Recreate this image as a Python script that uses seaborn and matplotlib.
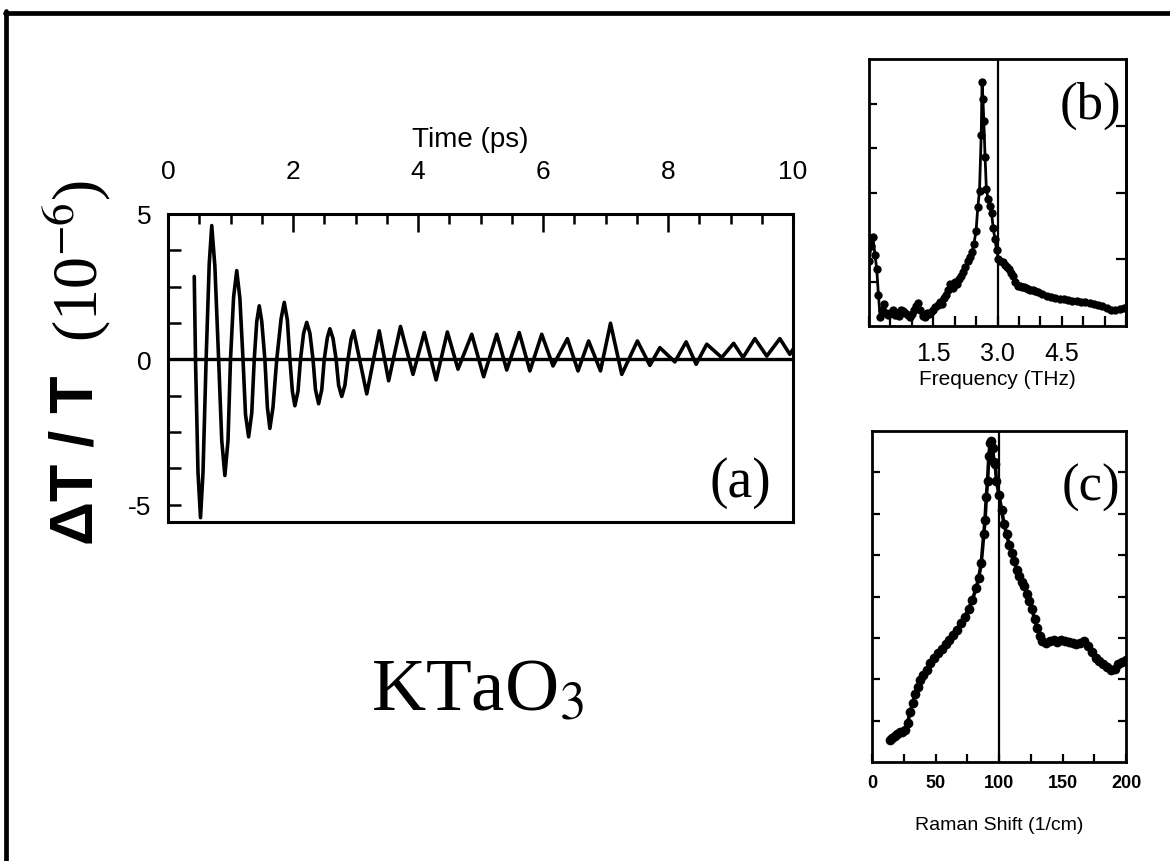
import matplotlib
matplotlib.use("Agg")
import matplotlib.pyplot as plt
import seaborn as sns
import numpy as np
from matplotlib.lines import Line2D
from matplotlib.ticker import MultipleLocator, FixedLocator, NullFormatter

# ---------------- data ----------------
# (a) pump-probe transient
time_ps = [0.42, 0.44, 0.48, 0.52, 0.56, 0.61, 0.66, 0.70, 0.75, 0.81, 0.86, 0.91,
           0.96, 1.00, 1.05, 1.10, 1.15, 1.20, 1.24, 1.29, 1.34, 1.38, 1.42, 1.46,
           1.50, 1.55, 1.59, 1.63, 1.68, 1.74, 1.81, 1.86, 1.91, 1.95, 1.99, 2.03,
           2.08, 2.12, 2.17, 2.22, 2.27, 2.32, 2.36, 2.41, 2.46, 2.50, 2.55, 2.59,
           2.64, 2.69, 2.73, 2.78, 2.83, 2.88, 2.93, 2.97,
           3.18, 3.38, 3.53, 3.72, 3.92, 4.10, 4.29, 4.47, 4.64,
           4.86, 5.05, 5.26, 5.42, 5.62, 5.79, 5.98, 6.16, 6.39, 6.56, 6.73, 6.92,
           7.08, 7.26, 7.51, 7.71, 7.87, 8.11, 8.29, 8.45, 8.62, 8.86, 9.05, 9.20,
           9.39, 9.58, 9.79, 9.95, 10.0]
dT_T = [2.85, 0.00, -3.90, -5.45, -3.90, 0.00, 3.30, 4.60, 3.20, 0.00, -2.80, -4.00,
        -2.80, 0.00, 2.15, 3.05, 2.10, 0.00, -1.90, -2.67, -1.85, 0.00, 1.30, 1.84,
        1.30, 0.00, -1.65, -2.38, -1.65, 0.00, 1.40, 1.96, 1.35, 0.00, -1.10, -1.60,
        -1.10, 0.00, 0.90, 1.27, 0.90, 0.00, -1.05, -1.53, -1.05, 0.00, 0.75, 1.05,
        0.72, 0.00, -0.90, -1.28, -0.90, 0.00, 0.70, 0.98,
        -1.19, 0.98, -0.74, 1.13, -0.52, 0.92, -0.71, 0.94, -0.34,
        0.86, -0.60, 0.86, -0.37, 0.92, -0.40, 0.86, -0.23, 0.71, -0.40, 0.63, -0.40,
        1.24, -0.52, 0.63, -0.21, 0.40, -0.09, 0.60, -0.17, 0.52, 0.06, 0.55, 0.06,
        0.71, 0.11, 0.71, 0.17, 0.34]

# (b) Fourier spectrum
freq_thz = [0.00, 0.05, 0.09, 0.14, 0.18, 0.22, 0.26, 0.30, 0.35, 0.40, 0.45, 0.50,
            0.55, 0.60, 0.65, 0.70, 0.75, 0.80, 0.85, 0.90, 0.95, 1.00, 1.05, 1.10,
            1.15, 1.20, 1.25, 1.30, 1.35, 1.40, 1.45, 1.50, 1.55, 1.60, 1.65, 1.70,
            1.75, 1.80, 1.85, 1.90, 1.95, 2.00, 2.05, 2.10, 2.15, 2.20, 2.25, 2.30,
            2.35, 2.40, 2.45, 2.50, 2.54, 2.58, 2.62, 2.64, 2.66, 2.68, 2.71, 2.74,
            2.78, 2.82, 2.86, 2.90, 2.94, 2.98, 3.02, 3.07, 3.12, 3.17, 3.22, 3.27,
            3.32, 3.37, 3.42, 3.47, 3.52, 3.57, 3.62, 3.67, 3.72, 3.77, 3.82, 3.87,
            3.95, 4.05, 4.15, 4.25, 4.35, 4.45, 4.55, 4.65, 4.75, 4.85, 4.95, 5.05,
            5.15, 5.25, 5.35, 5.45, 5.55, 5.65, 5.75, 5.85, 5.95]
fft_amp = [1.47, 1.80, 2.00, 1.60, 1.28, 0.70, 0.20, 0.35, 0.50, 0.30, 0.25, 0.30,
           0.35, 0.25, 0.30, 0.22, 0.35, 0.34, 0.30, 0.25, 0.20, 0.27, 0.35, 0.45,
           0.52, 0.35, 0.23, 0.20, 0.30, 0.28, 0.31, 0.36, 0.42, 0.47, 0.55, 0.50,
           0.62, 0.70, 0.80, 0.94, 0.85, 0.98, 0.95, 1.05, 1.13, 1.22, 1.32, 1.47,
           1.55, 1.66, 1.85, 2.14, 2.67, 3.04, 4.30, 5.48, 5.10, 4.61, 3.80, 3.08,
           2.85, 2.70, 2.55, 2.20, 1.96, 1.70, 1.51, 1.45, 1.43, 1.38, 1.32, 1.28,
           1.18, 1.13, 1.00, 0.91, 0.90, 0.88, 0.87, 0.86, 0.84, 0.82, 0.80, 0.79,
           0.76, 0.72, 0.68, 0.66, 0.63, 0.61, 0.60, 0.58, 0.57, 0.56, 0.55, 0.53,
           0.51, 0.49, 0.47, 0.44, 0.40, 0.35, 0.37, 0.38, 0.40]

# (c) Raman spectrum
raman_shift = [14, 16, 18, 20, 22, 24, 26, 28, 30, 32, 34, 36, 38, 40, 43, 46, 49, 52,
               55, 58, 61, 64, 67, 70, 73, 76, 79, 82, 84, 86, 88, 89, 90, 91, 92, 93,
               94, 95, 96, 97, 98, 100, 102, 104, 106, 108, 110, 112, 114, 116, 118,
               120, 122, 124, 126, 128, 130, 132, 134, 137, 140, 143, 146, 149, 152,
               155, 158, 161, 164, 167, 170, 173, 176, 179, 182, 185, 188, 191, 194,
               197, 200]
raman_int = [0.52, 0.58, 0.64, 0.68, 0.72, 0.72, 0.78, 0.95, 1.20, 1.42, 1.64, 1.82,
             1.98, 2.10, 2.22, 2.40, 2.52, 2.64, 2.74, 2.86, 2.95, 3.07, 3.18, 3.36,
             3.50, 3.70, 3.92, 4.20, 4.45, 4.80, 5.50, 5.85, 6.40, 6.80, 7.40, 7.70,
             7.75, 7.60, 7.25, 7.20, 6.80, 6.45, 6.10, 5.75, 5.50, 5.25, 5.05, 4.85,
             4.65, 4.50, 4.35, 4.25, 4.05, 3.90, 3.70, 3.45, 3.25, 3.05, 2.92, 2.88,
             2.92, 2.94, 2.90, 2.96, 2.92, 2.90, 2.88, 2.86, 2.88, 2.92, 2.80, 2.65,
             2.52, 2.45, 2.38, 2.30, 2.22, 2.25, 2.38, 2.42, 2.46]

a_xticks = [0, 2, 4, 6, 8, 10]
a_yticks = [-5, 0, 5]
b_xticks = [1.5, 3.0, 4.5]
c_xticks = [0, 50, 100, 150, 200]
b_mode_line = 3.0
c_mode_line = 100

# ---------------- style ----------------
sns.set_style("ticks")
plt.rcParams['font.family'] = ['Liberation Sans', 'DejaVu Sans']
plt.rcParams['axes.unicode_minus'] = False
plt.rcParams['mathtext.fontset'] = 'stix'
for k in ['text.color', 'axes.labelcolor', 'xtick.color', 'ytick.color',
          'axes.edgecolor']:
    plt.rcParams[k] = 'black'
SANS = ['Liberation Sans', 'DejaVu Sans']
SERIF = ['Liberation Serif', 'DejaVu Serif']

W, H = 1170, 862
fig = plt.figure(figsize=(W / 100, H / 100), dpi=100)
fig.patch.set_facecolor('white')


def box(l, t, r, b):
    return [l / W, 1 - b / H, (r - l) / W, (b - t) / H]


def style_spines(ax, lw=2.2):
    for s in ax.spines.values():
        s.set_visible(True)
        s.set_linewidth(lw)
        s.set_color('black')


# ---------------- panel (a) ----------------
ax = fig.add_axes(box(168, 215, 793, 523))
sns.lineplot(x=time_ps, y=dT_T, ax=ax, color='black', linewidth=2.6,
             estimator=None, sort=False, solid_joinstyle='round')
ax.axhline(0, color='black', linewidth=2.4, zorder=1)
ax.set_xlim(0, 10)
ax.set_ylim(-5.6, 5.0)
style_spines(ax)
ax.xaxis.tick_top()
ax.set_xticks(a_xticks)
ax.xaxis.set_minor_locator(MultipleLocator(0.5))
ax.set_yticks(a_yticks)
ax.yaxis.set_minor_locator(MultipleLocator(1.25))
ax.tick_params(axis='x', which='both', direction='in', top=True, bottom=False,
               labeltop=True, labelbottom=False, width=1.8, labelsize=19, pad=22)
ax.tick_params(axis='x', which='major', length=13)
ax.tick_params(axis='x', which='minor', length=7)
ax.tick_params(axis='y', which='both', direction='in', left=True, right=False,
               length=9, width=1.8, labelsize=19, pad=12)
ax.set_xlabel('')
ax.set_ylabel('')
fig.text(470 / W, 1 - 140 / H, 'Time (ps)', ha='center', va='center',
         fontsize=20, family=SANS)
ax.text(0.915, 0.13, '(a)', transform=ax.transAxes, ha='center', va='center',
        fontsize=40, family=SERIF)

# ---------------- panel (b) ----------------
bx = fig.add_axes(box(869, 60, 1126, 327))
sns.lineplot(x=freq_thz, y=fft_amp, ax=bx, color='black', linewidth=2.0,
             marker='o', markersize=6, markeredgewidth=0, estimator=None, sort=False)
bx.axvline(b_mode_line, color='black', linewidth=1.6)
bx.set_xlim(0, 6)
bx.set_ylim(0, 6)
style_spines(bx, 2.0)
bx.set_xticks(b_xticks)
bx.set_xticklabels([f'{v:.1f}' for v in b_xticks])
bx.xaxis.set_minor_locator(MultipleLocator(0.5))
bx.yaxis.set_major_locator(FixedLocator([1, 2, 3, 4, 5]))
bx.yaxis.set_major_formatter(NullFormatter())
bx.tick_params(axis='x', which='both', direction='in', bottom=True, top=False,
               length=7, width=1.6, labelsize=18, pad=11)
bx.tick_params(axis='y', which='both', direction='in', left=True, right=False,
               length=6, width=1.6)
bry = bx.secondary_yaxis('right')
bry.set_yticks([1.5, 3.0, 4.5])
bry.yaxis.set_major_formatter(NullFormatter())
bry.tick_params(axis='y', direction='in', length=7, width=1.6)
bry.spines['right'].set_linewidth(2.0)
bx.set_xlabel('Frequency (THz)', fontsize=15, family=SANS, labelpad=3)
bx.set_ylabel('')
bx.text(0.86, 0.83, '(b)', transform=bx.transAxes, ha='center', va='center',
        fontsize=38, family=SERIF)

# ---------------- panel (c) ----------------
cx = fig.add_axes(box(872, 432, 1126, 763))
sns.lineplot(x=raman_shift, y=raman_int, ax=cx, color='black', linewidth=2.6,
             marker='o', markersize=7, markeredgewidth=0, estimator=None, sort=False)
cx.axvline(c_mode_line, color='black', linewidth=1.6)
cx.set_xlim(0, 200)
cx.set_ylim(0, 8)
style_spines(cx, 2.0)
cx.set_xticks(c_xticks)
cx.xaxis.set_minor_locator(MultipleLocator(25))
cx.yaxis.set_major_locator(FixedLocator([1, 2, 3, 4, 5, 6, 7]))
cx.yaxis.set_major_formatter(NullFormatter())
cx.tick_params(axis='x', which='both', direction='in', bottom=True, top=False,
               length=6, width=1.6, labelsize=13, pad=9)
cx.tick_params(axis='y', which='both', direction='in', left=True, right=True,
               length=6, width=1.6)
for lab in cx.get_xticklabels():
    lab.set_weight('bold')
cx.set_xlabel('Raman Shift (1/cm)', fontsize=14, family=SANS, labelpad=18)
cx.set_ylabel('')
cx.text(0.86, 0.83, '(c)', transform=cx.transAxes, ha='center', va='center',
        fontsize=38, family=SERIF)

# ---------------- big labels ----------------
fig.text(77 / W, 1 - 545 / H, 'ΔT / T', rotation=90, rotation_mode='anchor',
         ha='left', va='center', fontsize=44, fontweight='bold', family=SANS)
fig.text(77 / W, 1 - 180 / H, r'(10$^{-6}$)', rotation=90, rotation_mode='anchor',
         ha='right', va='center', fontsize=46, family=SERIF)
fig.text(478 / W, 1 - 693 / H, r'KTaO$_3$', ha='center', va='center',
         fontsize=54, family=SERIF)

# ---------------- frame ----------------
fig.add_artist(Line2D([5 / W, 1.0], [1 - 14 / H, 1 - 14 / H], color='black',
                      linewidth=3.4, transform=fig.transFigure))
fig.add_artist(Line2D([6 / W, 6 / W], [1 - 12 / H, 0.0], color='black',
                      linewidth=3.4, transform=fig.transFigure))

fig.savefig('out.png', dpi=100)
